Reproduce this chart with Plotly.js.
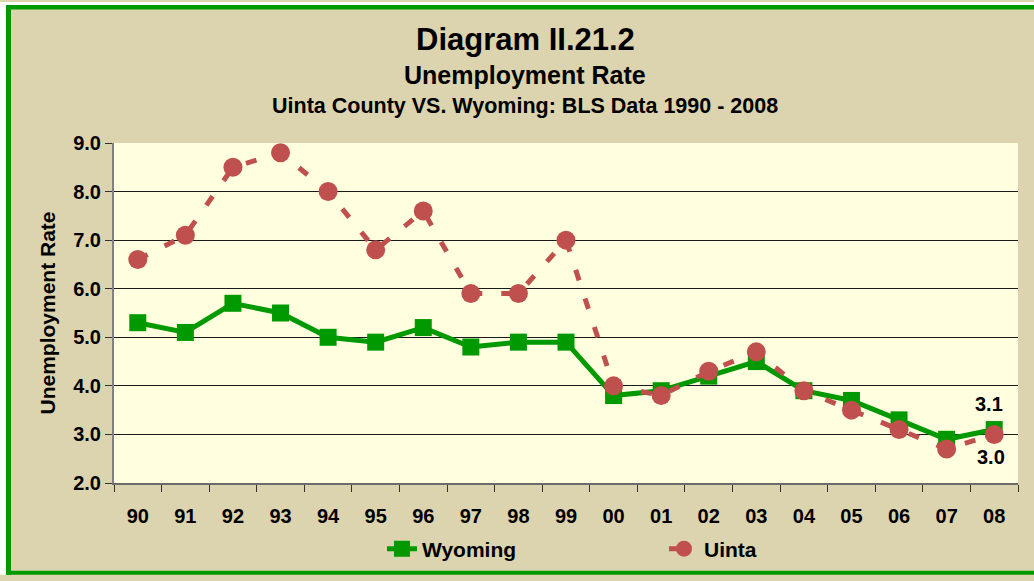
<!DOCTYPE html>
<html>
<head>
<meta charset="utf-8">
<script src="https://cdn.plot.ly/plotly-3.0.1.min.js"></script>
<style>
html,body{margin:0;padding:0;background:#ffffff;overflow:hidden;}
#chart{width:1034px;height:581px;}
</style>
</head>
<body>
<div id="chart"></div>
<script>
// ---- data ----
const years = ['90','91','92','93','94','95','96','97','98','99','00','01','02','03','04','05','06','07','08'];
const wyoming = [5.3,5.1,5.7,5.5,5.0,4.9,5.2,4.8,4.9,4.9,3.8,3.9,4.2,4.5,3.9,3.7,3.3,2.9,3.1];
const uinta   = [6.6,7.1,8.5,8.8,8.0,6.8,7.6,5.9,5.9,7.0,4.0,3.8,4.3,4.7,3.9,3.5,3.1,2.7,3.0];
const seriesNames = ['Wyoming','Uinta'];
const titleMain = 'Diagram II.21.2';
const titleSub1 = 'Unemployment Rate';
const titleSub2 = 'Uinta County VS. Wyoming: BLS Data 1990 - 2008';
const yTitle = 'Unemployment Rate';

// ---- layout helpers (pixel -> paper) ----
const L = 114, R = 1018, T = 143, B = 488;
const fx = px => (px - L) / (R - L);
const fy = py => (B - py) / (B - T);

const FONT = '"Liberation Sans", Arial, sans-serif';
const GREEN = '#009900';
const RED = '#C0504D';
const BEIGE = '#DCD4AF';
const last = years.length - 1;

const traces = [
  {
    x: years, y: wyoming, name: seriesNames[0], type: 'scatter', mode: 'lines+markers',
    line: {color: GREEN, width: 5},
    marker: {symbol: 'square', size: 17, color: GREEN}
  },
  {
    x: years, y: uinta, name: seriesNames[1], type: 'scatter', mode: 'lines+markers',
    line: {color: RED, width: 5, dash: '11px,19px'},
    marker: {symbol: 'circle', size: 19, color: RED}
  }
];

const layout = {
  width: 1034, height: 581,
  margin: {l: L, r: 1034 - R, t: T, b: 581 - B, pad: 0},
  paper_bgcolor: BEIGE,
  plot_bgcolor: '#FFFFE0',
  font: {family: FONT, color: '#000'},
  showlegend: true,
  legend: {
    orientation: 'h', x: fx(382), xanchor: 'left', y: fy(555), yanchor: 'middle',
    font: {family: FONT, size: 21, color: '#000', weight: 'bold'},
    bgcolor: 'rgba(0,0,0,0)', entrywidth: 237, entrywidthmode: 'pixels',
    traceorder: 'normal'
  },
  xaxis: {
    type: 'category', range: [-0.5, years.length - 0.5], tickson: 'boundaries',
    ticks: 'outside', ticklen: 7, tickwidth: 1, tickcolor: '#333', ticklabelstandoff: 14,
    showline: true, linecolor: '#6b6b6b', linewidth: 2, showgrid: false, zeroline: false,
    tickfont: {family: FONT, size: 20, color: '#000', weight: 'bold'}, fixedrange: true
  },
  yaxis: {
    range: [2, 9], dtick: 1, tick0: 2, tickformat: '.1f', ticks: 'outside', ticklen: 7, tickwidth: 1, tickcolor: '#333',
    showline: true, linecolor: '#808080', linewidth: 2, showgrid: true, gridcolor: '#1a1a1a', gridwidth: 1,
    zeroline: false, tickfont: {family: FONT, size: 20, color: '#000', weight: 'bold'},
    title: {text: yTitle, font: {family: FONT, size: 21, color: '#000', weight: 'bold'}, standoff: 12},
    fixedrange: true
  },
  shapes: [
    // white margin outside the frame (left and top)
    {type: 'rect', xref: 'paper', yref: 'paper', layer: 'above',
     x0: fx(0), x1: fx(6), y0: fy(581), y1: fy(0), fillcolor: '#ffffff', line: {width: 0}},
    {type: 'rect', xref: 'paper', yref: 'paper', layer: 'above',
     x0: fx(0), x1: fx(1034), y0: fy(3), y1: fy(0), fillcolor: '#ffffff', line: {width: 0}},
    // green frame: left, top, bottom
    {type: 'rect', xref: 'paper', yref: 'paper', layer: 'above',
     x0: fx(6), x1: fx(11), y0: fy(581), y1: fy(3), fillcolor: GREEN, line: {width: 0}},
    {type: 'rect', xref: 'paper', yref: 'paper', layer: 'above',
     x0: fx(6), x1: fx(1034), y0: fy(7.5), y1: fy(3), fillcolor: GREEN, line: {width: 0}},
    {type: 'rect', xref: 'paper', yref: 'paper', layer: 'above',
     x0: fx(6), x1: fx(1034), y0: fy(581), y1: fy(577), fillcolor: GREEN, line: {width: 0}}
  ],
  annotations: [
    {text: titleMain, xref: 'paper', yref: 'paper', x: fx(525), y: fy(38), xanchor: 'center', yanchor: 'middle',
     showarrow: false, font: {family: FONT, size: 31, color: '#000', weight: 'bold'}},
    {text: titleSub1, xref: 'paper', yref: 'paper', x: fx(525), y: fy(74), xanchor: 'center', yanchor: 'middle',
     showarrow: false, font: {family: FONT, size: 25, color: '#000', weight: 'bold'}},
    {text: titleSub2, xref: 'paper', yref: 'paper', x: fx(525), y: fy(105), xanchor: 'center', yanchor: 'middle',
     showarrow: false, font: {family: FONT, size: 21.5, color: '#000', weight: 'bold'}},
    {text: wyoming[last].toFixed(1), xref: 'x', yref: 'y', x: last, y: wyoming[last],
     xanchor: 'center', yanchor: 'middle', yshift: 26, xshift: -5, showarrow: false,
     font: {family: FONT, size: 20, color: '#000', weight: 'bold'}},
    {text: uinta[last].toFixed(1), xref: 'x', yref: 'y', x: last, y: uinta[last],
     xanchor: 'center', yanchor: 'middle', yshift: -23, xshift: -3, showarrow: false,
     font: {family: FONT, size: 20, color: '#000', weight: 'bold'}}
  ]
};

Plotly.newPlot('chart', traces, layout, {displayModeBar: false, staticPlot: true});
</script>
</body>
</html>
